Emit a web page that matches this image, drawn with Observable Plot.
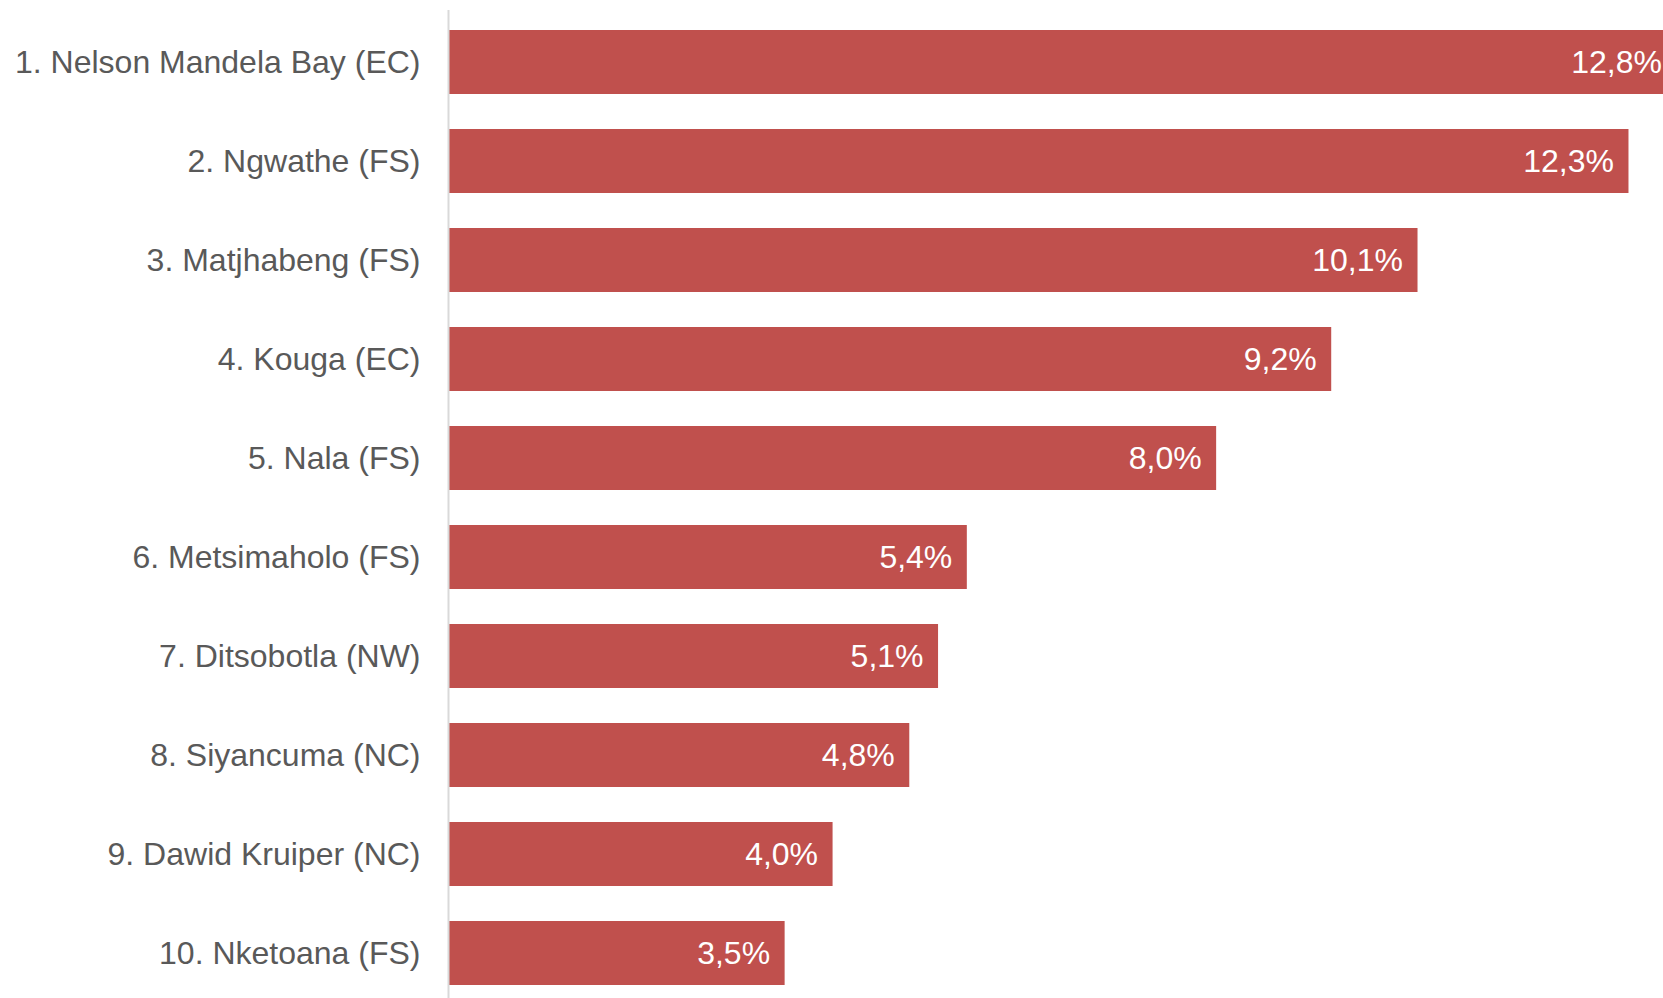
<!DOCTYPE html>
<html>
<head>
<meta charset="utf-8">
<script src="https://cdn.jsdelivr.net/npm/d3@7"></script>
<script src="https://cdn.jsdelivr.net/npm/@observablehq/plot@0.6"></script>
<style>
  html, body { margin: 0; padding: 0; background: #fff; overflow: hidden; }
  #chart svg { display: block; }
</style>
</head>
<body>
<div id="chart"></div>
<script>
const municipalities = [
  "1. Nelson Mandela Bay (EC)",
  "2. Ngwathe (FS)",
  "3. Matjhabeng (FS)",
  "4. Kouga (EC)",
  "5. Nala (FS)",
  "6. Metsimaholo (FS)",
  "7. Ditsobotla (NW)",
  "8. Siyancuma (NC)",
  "9. Dawid Kruiper (NC)",
  "10. Nketoana (FS)"
];
const shares = [12.8, 12.3, 10.1, 9.2, 8.0, 5.4, 5.1, 4.8, 4.0, 3.5];

const data = municipalities.map((name, i) => ({name, value: shares[i]}));
const fmt = v => d3.format(".1f")(v).replace(".", ",") + "%";

const chart = Plot.plot({
  width: 1663,
  height: 998,
  marginLeft: 449,
  marginRight: 0,
  marginTop: 10,
  marginBottom: 0,
  style: {fontFamily: "'Liberation Sans', Arial, sans-serif", background: "#fff"},
  x: {domain: [0, 12.66], axis: null},
  y: {domain: municipalities, range: [7.4, 1007.0], paddingInner: 0.35, paddingOuter: 0.2, label: null},
  marks: [
    Plot.barX(data, {x: "value", y: "name", fill: "#c0504d", clip: true}),
    Plot.ruleX([0], {stroke: "#d9d9d9", strokeWidth: 2, dx: -1}),
    Plot.text(data, {x: "value", y: "name", text: d => fmt(d.value), textAnchor: "end", dx: -15, fill: "white", fontSize: 32}),
    Plot.axisY({tickSize: 0, tickPadding: 29, fontSize: 32, color: "#595959", label: null})
  ]
});
document.getElementById("chart").appendChild(chart);
</script>
</body>
</html>
